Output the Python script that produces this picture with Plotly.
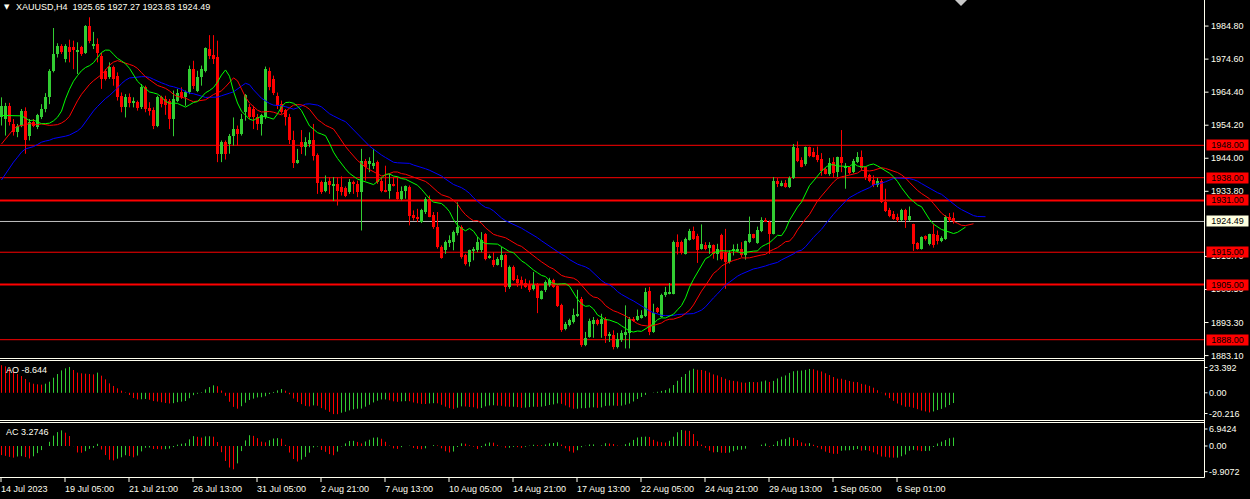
import numpy as np
import plotly.graph_objects as go

# ---------------- data ----------------
opens = [
1956.6, 1956.1, 1960.2, 1954.6, 1952.0, 1954.1, 1958.7, 1951.0, 1955.3, 1953.6,
1956.6, 1959.2, 1962.8, 1971.0, 1976.2, 1978.5, 1974.6, 1978.2, 1978.2, 1976.9,
1978.2, 1976.5, 1984.9, 1978.7, 1979.4, 1975.6, 1971.0, 1969.0, 1972.1, 1969.5,
1963.3, 1959.7, 1962.8, 1961.1, 1961.5, 1959.7, 1965.9, 1959.4, 1959.0, 1954.1,
1962.8, 1962.3, 1961.8, 1956.1, 1961.8, 1964.6, 1962.8, 1964.4, 1971.5, 1964.9,
1969.0, 1971.0, 1977.7, 1975.8, 1975.4, 1945.4, 1949.0, 1948.4, 1951.0, 1953.0,
1951.5, 1958.2, 1959.7, 1959.2, 1956.8, 1954.6, 1956.6, 1971.0, 1968.5, 1963.3,
1960.9, 1958.9, 1956.8, 1949.5, 1942.5, 1948.9, 1947.6, 1948.4, 1949.6, 1945.1,
1936.6, 1934.0, 1936.9, 1935.6, 1936.1, 1935.1, 1934.9, 1933.5, 1936.6, 1936.1,
1933.5, 1943.3, 1942.5, 1941.7, 1942.8, 1937.1, 1934.0, 1934.0, 1936.1, 1933.7,
1931.5, 1934.0, 1935.1, 1926.5, 1926.0, 1924.3, 1927.4, 1931.5, 1926.6, 1922.7,
1916.6, 1915.6, 1917.8, 1918.1, 1920.9, 1922.7, 1914.0, 1912.0, 1915.3, 1915.6,
1915.6, 1920.5, 1913.3, 1912.5, 1911.2, 1912.5, 1914.0, 1904.3, 1910.4, 1906.8,
1906.5, 1905.5, 1904.8, 1903.7, 1905.3, 1900.7, 1903.2, 1904.8, 1906.5, 1904.5,
1898.6, 1891.4, 1892.4, 1893.5, 1895.2, 1900.7, 1886.3, 1888.8, 1893.0, 1894.0,
1893.0, 1894.5, 1889.4, 1889.4, 1885.6, 1887.8, 1889.4, 1890.1, 1894.5, 1894.0,
1895.0, 1895.2, 1903.0, 1890.4, 1897.9, 1895.0, 1901.7, 1902.4, 1902.2, 1918.1,
1918.1, 1914.5, 1918.8, 1921.7, 1919.9, 1916.1, 1917.1, 1916.6, 1917.1, 1914.5,
1920.2, 1915.0, 1912.0, 1915.3, 1915.6, 1916.1, 1914.0, 1918.1, 1920.5, 1917.8,
1921.7, 1925.1, 1924.3, 1920.7, 1937.1, 1935.5, 1936.3, 1935.1, 1937.9, 1947.2,
1943.5, 1942.1, 1947.4, 1945.9, 1944.9, 1943.8, 1940.7, 1939.2, 1942.8, 1939.7,
1944.3, 1941.0, 1941.2, 1939.7, 1942.8, 1944.5, 1941.2, 1938.7, 1937.3, 1935.6,
1937.1, 1930.5, 1927.9, 1926.9, 1925.8, 1924.8, 1928.1, 1925.0, 1923.6, 1917.8,
1916.1, 1919.9, 1917.4, 1920.5, 1920.2, 1918.4, 1919.2, 1925.8, 1925.65]

highs = [
1962.8, 1961.1, 1961.1, 1956.1, 1954.6, 1959.2, 1959.7, 1956.1, 1956.1, 1957.7,
1960.7, 1964.1, 1971.5, 1984.2, 1979.5, 1979.2, 1979.2, 1980.6, 1980.3, 1979.8,
1978.7, 1985.1, 1987.5, 1983.0, 1981.0, 1976.5, 1971.5, 1973.6, 1972.6, 1970.5,
1964.3, 1963.8, 1964.0, 1962.8, 1961.8, 1966.9, 1966.4, 1961.3, 1959.7, 1963.3,
1963.3, 1963.3, 1962.3, 1964.9, 1965.4, 1965.9, 1964.9, 1972.6, 1974.1, 1971.0,
1972.6, 1978.2, 1982.0, 1982.0, 1980.3, 1949.5, 1949.5, 1951.5, 1956.6, 1954.1,
1957.7, 1963.8, 1960.7, 1960.2, 1957.7, 1957.7, 1972.3, 1972.0, 1969.5, 1964.3,
1961.8, 1959.2, 1957.7, 1952.5, 1946.9, 1952.7, 1950.5, 1952.0, 1954.6, 1945.5,
1937.1, 1938.7, 1938.2, 1938.2, 1938.2, 1938.4, 1935.3, 1937.6, 1937.1, 1937.1,
1946.9, 1943.8, 1944.3, 1946.9, 1943.3, 1938.2, 1941.7, 1939.2, 1938.2, 1938.2,
1935.3, 1935.6, 1935.6, 1927.9, 1928.4, 1928.4, 1932.0, 1932.5, 1927.4, 1927.4,
1917.1, 1918.6, 1920.2, 1921.7, 1930.4, 1923.3, 1914.5, 1915.8, 1916.6, 1919.7,
1921.2, 1920.9, 1914.3, 1915.0, 1913.5, 1916.6, 1914.5, 1910.9, 1910.9, 1907.9,
1907.5, 1906.8, 1906.3, 1908.9, 1905.5, 1903.2, 1906.3, 1907.1, 1906.8, 1904.8,
1899.1, 1893.5, 1894.5, 1897.6, 1903.4, 1901.2, 1890.4, 1894.5, 1895.0, 1894.5,
1896.0, 1895.0, 1890.4, 1890.9, 1890.1, 1890.9, 1898.6, 1895.0, 1895.0, 1897.3,
1897.1, 1904.0, 1904.3, 1899.1, 1898.1, 1902.2, 1904.3, 1905.5, 1918.6, 1920.5,
1918.6, 1919.5, 1922.2, 1922.9, 1920.7, 1923.6, 1918.1, 1918.1, 1917.4, 1917.6,
1920.7, 1922.2, 1915.6, 1917.4, 1917.6, 1918.1, 1918.6, 1926.0, 1920.7, 1922.9,
1925.8, 1925.6, 1924.8, 1938.2, 1937.9, 1937.1, 1937.3, 1938.4, 1948.4, 1949.2,
1944.3, 1947.6, 1947.6, 1947.2, 1947.6, 1945.6, 1941.2, 1944.1, 1944.3, 1944.5,
1952.7, 1942.5, 1941.4, 1943.8, 1945.9, 1946.4, 1941.4, 1939.2, 1938.7, 1937.9,
1937.6, 1934.6, 1928.7, 1927.7, 1926.9, 1928.4, 1928.4, 1929.1, 1923.8, 1918.1,
1919.9, 1920.2, 1920.7, 1923.6, 1921.7, 1919.9, 1926.4, 1927.1, 1927.27]

lows = [
1954.1, 1951.0, 1954.1, 1951.0, 1950.5, 1953.6, 1945.4, 1949.5, 1953.6, 1953.0,
1956.1, 1958.2, 1960.7, 1970.5, 1975.1, 1976.2, 1973.6, 1973.6, 1971.5, 1970.0,
1975.6, 1976.2, 1979.5, 1977.7, 1973.6, 1965.4, 1968.0, 1968.5, 1966.4, 1961.8,
1958.2, 1956.6, 1959.7, 1959.7, 1958.7, 1959.2, 1958.2, 1957.2, 1953.0, 1953.6,
1959.7, 1957.4, 1953.0, 1950.8, 1961.3, 1962.3, 1960.2, 1963.8, 1965.4, 1964.4,
1966.4, 1970.5, 1974.6, 1973.1, 1942.8, 1942.8, 1943.6, 1945.4, 1947.9, 1947.9,
1951.0, 1955.6, 1956.1, 1953.0, 1952.7, 1951.0, 1956.1, 1965.0, 1963.5, 1959.2,
1957.7, 1954.1, 1948.4, 1941.0, 1942.3, 1945.3, 1944.8, 1947.4, 1943.3, 1933.0,
1933.0, 1933.5, 1933.0, 1930.8, 1929.4, 1932.5, 1932.0, 1933.0, 1933.0, 1932.0,
1921.7, 1937.1, 1939.7, 1940.7, 1936.1, 1933.5, 1933.5, 1931.5, 1935.3, 1931.2,
1931.0, 1931.5, 1923.3, 1924.8, 1924.3, 1924.0, 1926.8, 1925.8, 1922.2, 1916.1,
1913.0, 1914.5, 1916.6, 1915.6, 1920.2, 1913.0, 1910.9, 1910.6, 1912.5, 1915.0,
1915.0, 1912.5, 1913.0, 1910.4, 1910.9, 1910.4, 1902.7, 1903.7, 1906.1, 1904.3,
1903.7, 1904.0, 1902.7, 1903.2, 1896.2, 1900.4, 1902.7, 1904.3, 1904.0, 1898.1,
1890.4, 1890.9, 1892.1, 1893.0, 1895.0, 1885.8, 1886.0, 1888.6, 1888.6, 1892.4,
1888.6, 1887.0, 1887.3, 1885.0, 1885.3, 1887.3, 1885.3, 1885.3, 1893.5, 1893.8,
1894.5, 1895.0, 1889.4, 1890.1, 1896.2, 1894.8, 1901.2, 1902.0, 1902.0, 1914.3,
1914.3, 1914.3, 1918.6, 1918.8, 1911.7, 1915.8, 1915.6, 1914.5, 1913.0, 1912.5,
1912.5, 1903.7, 1911.5, 1914.0, 1915.0, 1913.5, 1912.7, 1917.8, 1919.2, 1917.6,
1921.2, 1924.3, 1914.5, 1920.5, 1935.1, 1935.3, 1934.9, 1934.8, 1937.6, 1942.8,
1941.2, 1941.7, 1944.3, 1944.3, 1942.8, 1938.6, 1939.0, 1938.6, 1938.0, 1938.2,
1939.7, 1934.6, 1939.0, 1939.4, 1942.5, 1940.2, 1937.3, 1936.6, 1935.1, 1935.1,
1930.2, 1927.4, 1925.8, 1925.0, 1924.3, 1924.6, 1922.5, 1924.6, 1915.4, 1915.8,
1915.8, 1918.6, 1917.1, 1916.4, 1917.4, 1918.1, 1918.8, 1924.3, 1923.83]

closes = [
1960.2, 1960.2, 1955.1, 1952.0, 1953.9, 1958.7, 1949.5, 1955.1, 1954.1, 1957.2,
1959.2, 1962.8, 1971.0, 1976.2, 1978.5, 1976.7, 1978.5, 1976.9, 1977.4, 1977.3,
1976.2, 1984.9, 1980.3, 1979.1, 1976.5, 1968.5, 1968.5, 1972.1, 1968.5, 1962.8,
1959.7, 1962.8, 1961.1, 1961.5, 1959.4, 1965.9, 1959.2, 1958.7, 1954.1, 1962.8,
1960.7, 1960.4, 1956.1, 1962.3, 1964.1, 1962.8, 1964.4, 1971.5, 1966.4, 1969.0,
1971.5, 1978.0, 1975.6, 1974.6, 1945.4, 1949.0, 1945.4, 1951.0, 1953.0, 1951.5,
1956.2, 1963.6, 1956.6, 1956.6, 1954.6, 1957.2, 1971.6, 1966.0, 1964.0, 1960.2,
1958.2, 1956.6, 1949.5, 1942.5, 1943.5, 1947.4, 1948.9, 1949.6, 1944.8, 1936.4,
1933.5, 1936.6, 1935.6, 1936.1, 1933.8, 1933.5, 1932.5, 1936.6, 1936.1, 1933.5,
1943.3, 1941.4, 1943.1, 1942.5, 1936.6, 1934.0, 1933.8, 1936.1, 1935.6, 1931.5,
1934.0, 1935.3, 1926.3, 1925.6, 1925.5, 1927.9, 1931.5, 1926.0, 1922.7, 1916.6,
1913.3, 1918.1, 1918.8, 1921.2, 1922.7, 1913.5, 1911.4, 1915.6, 1916.1, 1918.1,
1918.8, 1913.0, 1913.8, 1911.2, 1913.0, 1914.0, 1904.3, 1910.4, 1906.3, 1905.5,
1904.8, 1904.3, 1903.4, 1904.8, 1901.0, 1903.0, 1905.8, 1906.5, 1904.3, 1898.3,
1890.9, 1892.8, 1894.0, 1895.5, 1896.0, 1886.3, 1888.6, 1893.8, 1894.2, 1893.0,
1894.5, 1889.1, 1889.9, 1885.6, 1888.3, 1890.1, 1890.4, 1894.5, 1893.8, 1895.2,
1895.5, 1902.7, 1890.4, 1896.2, 1896.5, 1901.7, 1902.7, 1902.7, 1918.1, 1916.6,
1914.7, 1919.2, 1921.7, 1919.2, 1915.8, 1917.4, 1916.1, 1917.1, 1914.5, 1916.1,
1913.0, 1912.0, 1914.7, 1916.1, 1916.1, 1914.0, 1918.4, 1920.5, 1919.5, 1921.9,
1924.8, 1924.6, 1920.7, 1937.1, 1936.1, 1936.3, 1935.1, 1937.9, 1947.4, 1943.3,
1941.4, 1947.4, 1944.8, 1944.5, 1943.5, 1940.2, 1939.2, 1942.5, 1939.4, 1944.3,
1942.5, 1941.2, 1939.4, 1943.1, 1944.5, 1941.0, 1938.2, 1937.1, 1935.6, 1937.1,
1930.5, 1927.7, 1926.3, 1925.3, 1925.0, 1928.1, 1924.8, 1926.3, 1917.4, 1916.1,
1919.7, 1919.2, 1920.5, 1917.1, 1918.4, 1919.5, 1926.0, 1924.8, 1924.49]

# Alligator values visible before the first computed point
jaw_lead = [1937.3, 1939.2, 1940.9, 1942.8, 1944.3, 1945.9, 1946.9, 1947.3]
jaw_seed = 1947.6
teeth_lead = [1948.4, 1950.0, 1951.5, 1953.0, 1953.9]
teeth_seed = 1954.1
lips_lead = [1957.2, 1957.2, 1957.2]
lips_seed = 1957.2

# Awesome / Accelerator oscillator values at the left edge
ao_head = [23.39, 22.4, 20.2, 17.9, 15.9, 14.2, 11.7, 8.9, 7.7, 7.2,
           6.9, 7.7, 9.4, 12.8, 15.9, 19.0, 20.7, 21.9, 19.3, 17.1,
           16.5, 16.2, 15.9, 15.6, 17.1, 14.5, 11.4, 8.0, 5.8, 3.8,
           1.8, 0.4, -1.9]
ac_head = [-3.5, -3.8, -4.2, -4.5]

price_ticks = [1984.80, 1974.60, 1964.40, 1954.20, 1944.00, 1933.80,
               1913.70, 1903.50, 1893.30, 1883.10]
levels = [1948.00, 1938.00, 1931.00, 1915.00, 1905.00, 1888.00]
level_widths = [1, 1, 2, 1, 2, 1]
last_price = 1924.49

date_labels = ["14 Jul 2023", "19 Jul 05:00", "21 Jul 21:00", "26 Jul 13:00",
               "31 Jul 05:00", "2 Aug 21:00", "7 Aug 13:00", "10 Aug 05:00",
               "14 Aug 21:00", "17 Aug 13:00", "22 Aug 05:00", "24 Aug 21:00",
               "29 Aug 13:00", "1 Sep 05:00", "6 Sep 01:00"]
date_bar_step = 16

title_text = "XAUUSD,H4  1925.65 1927.27 1923.83 1924.49"
ao_label = "AO -8.644"
ac_label = "AC 3.2746"
ao_scale_labels = ["23.392", "0.00", "-20.216"]
ao_scale_vals = [23.392, 0.0, -20.216]
ac_scale_labels = ["6.9424", "0.00", "-9.9072"]
ac_scale_vals = [6.9424, 0.0, -9.9072]

# ---------------- styling / geometry ----------------
W, H = 1250, 499
XR = 1204.5
BAR_PX = 4.0
GREEN = "#32CD32"
RED = "#FF0000"
FG = "#FFFFF0"
FONT = "Liberation Sans"

def xp(px):
    return px / W

def yp(py):
    return 1 - py / H

x_start = -1.5 / BAR_PX
x_range = [x_start, x_start + XR / BAR_PX]
main_top, main_bot = 0.0, 358.0
main_range = [1948.0 - (main_bot - 145.3) / 3.24, 1948.0 + 145.3 / 3.24]
ao_top, ao_bot = 361.0, 420.0
ao_zero, ao_s = 392.8, 1.18
ao_range = [-(ao_bot - ao_zero) / ao_s, (ao_zero - ao_top) / ao_s]
ac_top, ac_bot = 423.0, 477.0
ac_zero, ac_s = 446.0, 2.59
ac_range = [-(ac_bot - ac_zero) / ac_s, (ac_zero - ac_top) / ac_s]

# ---------------- indicators ----------------
o = np.array(opens); h = np.array(highs); l = np.array(lows); c = np.array(closes)
n = len(c)
idx = np.arange(n)
med = (h + l) / 2.0


def smma(seed, period, series):
    out = np.empty(len(series))
    out[0] = seed
    for i in range(1, len(series)):
        out[i] = (out[i - 1] * (period - 1) + series[i]) / period
    return out


jaw = smma(jaw_seed, 13, med)
teeth = smma(teeth_seed, 8, med)
lips = smma(lips_seed, 5, med)

ao = np.full(n, np.nan)
ao[:len(ao_head)] = ao_head
for i in range(33, n):
    ao[i] = med[i - 4:i + 1].mean() - med[i - 33:i + 1].mean()
ac = np.full(n, np.nan)
ac[:len(ac_head)] = ac_head
for i in range(4, n):
    ac[i] = ao[i] - ao[i - 4:i + 1].mean()


def rising(v):
    r = [False]
    for i in range(1, len(v)):
        r.append(bool(v[i] > v[i - 1]))
    return np.array(r)


fig = go.Figure()

# level lines
shapes = []
for lv, lw in zip(levels, level_widths):
    shapes.append(dict(type="line", xref="paper", yref="y", x0=0, x1=xp(XR), y0=lv, y1=lv,
                       line=dict(color=RED, width=lw), layer="below"))
shapes.append(dict(type="line", xref="paper", yref="y", x0=0, x1=xp(XR), y0=last_price, y1=last_price,
                   line=dict(color="#C0C0C0", width=1), layer="below"))

# candles: wicks + bodies
up = c > o
for mask, col in ((up, GREEN), (~up, RED)):
    wx, wy = [], []
    for i in idx[mask]:
        wx += [i, i, None]
        wy += [l[i], h[i], None]
    fig.add_trace(go.Scatter(x=wx, y=wy, mode="lines", line=dict(color=col, width=1),
                             hoverinfo="skip", yaxis="y"))
    bottom = np.minimum(o, c)[mask]
    height = np.maximum(np.abs(c - o)[mask], 0.32)
    fig.add_trace(go.Bar(x=idx[mask], y=height, base=bottom, width=0.75,
                         marker=dict(color=col, line=dict(width=0)), yaxis="y"))

# alligator
fig.add_trace(go.Scatter(x=list(range(len(jaw_lead))) + list(idx + 8), y=jaw_lead + list(jaw),
                         mode="lines", line=dict(color="#0000FF", width=1), yaxis="y"))
fig.add_trace(go.Scatter(x=list(range(len(teeth_lead))) + list(idx + 5), y=teeth_lead + list(teeth),
                         mode="lines", line=dict(color="#FF0000", width=1), yaxis="y"))
fig.add_trace(go.Scatter(x=list(range(len(lips_lead))) + list(idx + 3), y=lips_lead + list(lips),
                         mode="lines", line=dict(color="#00FF00", width=1), yaxis="y"))

# AO / AC histograms (1 px columns)
for vals, axis in ((ao, "y2"), (ac, "y3")):
    rs = rising(vals)
    for mask, col in ((rs, GREEN), (~rs, RED)):
        hx, hy = [], []
        for i in idx[mask]:
            hx += [i, i, None]
            hy += [0.0, vals[i], None]
        fig.add_trace(go.Scatter(x=hx, y=hy, mode="lines", line=dict(color=col, width=1),
                                 hoverinfo="skip", yaxis=axis))

# frame lines
for yy in (358.5, 360.5, 420.5, 422.5, 477.5):
    shapes.append(dict(type="line", xref="paper", yref="paper", x0=0, x1=xp(XR),
                       y0=yp(yy), y1=yp(yy), line=dict(color=FG, width=1)))
shapes.append(dict(type="line", xref="paper", yref="paper", x0=xp(XR), x1=xp(XR),
                   y0=yp(0), y1=yp(477.5), line=dict(color=FG, width=1)))
# chart-shift marker
shapes.append(dict(type="path", xref="paper", yref="paper",
                   path=f"M {xp(955)},{yp(0)} L {xp(967)},{yp(0)} L {xp(961)},{yp(6)} Z",
                   fillcolor="#C8C8C8", line=dict(width=0)))

annotations = []
# price ticks
for t in price_ticks:
    shapes.append(dict(type="line", xref="paper", yref="y", x0=xp(XR), x1=xp(XR + 4), y0=t, y1=t,
                       line=dict(color=FG, width=1)))
    annotations.append(dict(x=xp(1209), y=t, xref="paper", yref="y", text=f"{t:.2f}",
                            xanchor="left", yanchor="middle", showarrow=False,
                            font=dict(family=FONT, size=9, color=FG)))
for lv in levels:
    annotations.append(dict(x=xp(1205.5), y=lv, xref="paper", yref="y", text=f"{lv:.2f}",
                            xanchor="left", yanchor="middle", showarrow=False, bgcolor=RED,
                            width=41, height=10, borderpad=0, align="center",
                            font=dict(family=FONT, size=9, color="#000000")))
annotations.append(dict(x=xp(1205.5), y=last_price, xref="paper", yref="y", text=f"{last_price:.2f}",
                        xanchor="left", yanchor="middle", showarrow=False, bgcolor="#FFFFE0",
                        width=41, height=10, borderpad=0, align="center",
                        font=dict(family=FONT, size=9, color="#000000")))

# sub-window scales
for txt, v in zip(ao_scale_labels, ao_scale_vals):
    yy = ao_zero - v * ao_s
    yy = min(max(yy, ao_top + 6.5), ao_bot - 6.5)
    annotations.append(dict(x=xp(1207), y=yp(yy), xref="paper", yref="paper", text=txt,
                            xanchor="left", yanchor="middle", showarrow=False,
                            font=dict(family=FONT, size=9, color=FG)))
    shapes.append(dict(type="line", xref="paper", yref="paper", x0=xp(XR), x1=xp(XR + 3),
                       y0=yp(yy), y1=yp(yy), line=dict(color=FG, width=1)))
for txt, v in zip(ac_scale_labels, ac_scale_vals):
    yy = ac_zero - v * ac_s
    yy = min(max(yy, ac_top + 6), ac_bot - 5)
    annotations.append(dict(x=xp(1207), y=yp(yy), xref="paper", yref="paper", text=txt,
                            xanchor="left", yanchor="middle", showarrow=False,
                            font=dict(family=FONT, size=9, color=FG)))
    shapes.append(dict(type="line", xref="paper", yref="paper", x0=xp(XR), x1=xp(XR + 3),
                       y0=yp(yy), y1=yp(yy), line=dict(color=FG, width=1)))

annotations.append(dict(x=xp(4), y=yp(369.5), xref="paper", yref="paper", text=ao_label,
                        xanchor="left", yanchor="middle", showarrow=False,
                        font=dict(family=FONT, size=9, color=FG)))
annotations.append(dict(x=xp(4), y=yp(432), xref="paper", yref="paper", text=ac_label,
                        xanchor="left", yanchor="middle", showarrow=False,
                        font=dict(family=FONT, size=9, color=FG)))

# title
annotations.append(dict(x=xp(2), y=yp(7), xref="paper", yref="paper", text="▼",
                        xanchor="left", yanchor="middle", showarrow=False,
                        font=dict(family="DejaVu Sans", size=7, color=FG)))
annotations.append(dict(x=xp(14), y=yp(7), xref="paper", yref="paper", text=title_text,
                        xanchor="left", yanchor="middle", showarrow=False,
                        font=dict(family=FONT, size=9, color=FG)))

# time axis
for k, lab in enumerate(date_labels):
    bi = k * date_bar_step
    shapes.append(dict(type="line", xref="x", yref="paper", x0=bi - 0.125, x1=bi - 0.125,
                       y0=yp(477.5), y1=yp(482), line=dict(color=FG, width=1)))
    annotations.append(dict(x=bi, y=yp(488.5), xref="x", yref="paper", text=lab,
                            xanchor="left", yanchor="middle", showarrow=False, xshift=-3,
                            font=dict(family=FONT, size=9, color=FG)))

fig.update_layout(
    width=W, height=H, margin=dict(l=0, r=0, t=0, b=0),
    paper_bgcolor="#000000", plot_bgcolor="#000000",
    showlegend=False, barmode="overlay", bargap=0,
    xaxis=dict(domain=[0, xp(XR)], range=x_range, visible=False, fixedrange=True),
    yaxis=dict(domain=[yp(main_bot), yp(main_top)], range=main_range, visible=False),
    yaxis2=dict(domain=[yp(ao_bot), yp(ao_top)], range=ao_range, visible=False, anchor="x"),
    yaxis3=dict(domain=[yp(ac_bot), yp(ac_top)], range=ac_range, visible=False, anchor="x"),
    shapes=shapes, annotations=annotations,
)

fig.write_html("out.html", config={"displayModeBar": False},
               post_script="document.body.style.margin='0';document.body.style.overflow='hidden';")
